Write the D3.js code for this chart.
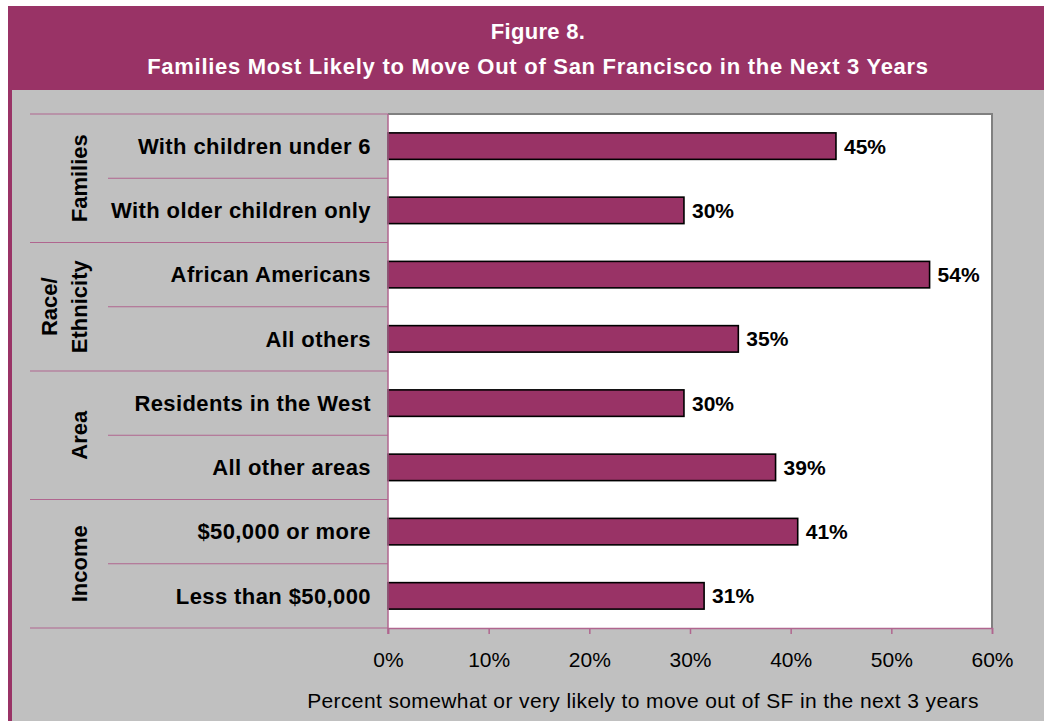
<!DOCTYPE html>
<html>
<head>
<meta charset="utf-8">
<script src="https://cdn.jsdelivr.net/npm/d3@7"></script>
<style>
  html, body { margin: 0; padding: 0; background: #ffffff; }
  svg { display: block; font-family: "Liberation Sans", Arial, sans-serif; }
</style>
</head>
<body>
<svg id="chart" width="1044" height="721"></svg>
<script>
// ---------- data ----------
const titleLines = ["Figure 8.", "Families Most Likely to Move Out of San Francisco in the Next 3 Years"];
const categories = [
  "With children under 6",
  "With older children only",
  "African Americans",
  "All others",
  "Residents in the West",
  "All other areas",
  "$50,000 or more",
  "Less than $50,000"
];
const categoryGroups = ["Families", "Families", "Race/Ethnicity", "Race/Ethnicity", "Area", "Area", "Income", "Income"];
const groupNames = ["Families", "Race/Ethnicity", "Area", "Income"];
const groupLabelLines = [["Families"], ["Race/", "Ethnicity"], ["Area"], ["Income"]];
const values = [44.5, 29.4, 53.8, 34.8, 29.4, 38.5, 40.7, 31.4];
const valueLabels = ["45%", "30%", "54%", "35%", "30%", "39%", "41%", "31%"];
const xTicks = [0, 10, 20, 30, 40, 50, 60];
const xAxisTitle = "Percent somewhat or very likely to move out of SF in the next 3 years";

// ---------- styles ----------
const magenta = "#993366";
const grey = "#c0c0c0";
const sepColor = "#b0668f";

const svg = d3.select("#chart");
const W = 1044, H = 721;

// frame
svg.append("rect").attr("x", 0).attr("y", 0).attr("width", W).attr("height", H).attr("fill", "#ffffff");
svg.append("rect").attr("x", 8).attr("y", 6).attr("width", W - 8).attr("height", H - 6).attr("fill", magenta);
svg.append("rect").attr("x", 12).attr("y", 90).attr("width", W - 12).attr("height", H - 90).attr("fill", grey);

// title
const title = svg.append("text")
  .attr("text-anchor", "middle")
  .attr("fill", "#ffffff")
  .attr("font-weight", "bold")
  .attr("font-size", 22);
title.selectAll("tspan").data(titleLines).join("tspan")
  .attr("x", 538)
  .attr("y", (d, i) => 39 + i * 34.5)
  .attr("letter-spacing", (d, i) => i === 0 ? 0.3 : 0.72)
  .text(d => d);

// scales
const plot = { left: 388, right: 992, top: 114, bottom: 628 };
const x = d3.scaleLinear().domain([0, 60]).range([plot.left, plot.right]);
const y = d3.scaleBand().domain(categories).range([plot.top, plot.bottom])
  .paddingInner(0.588).paddingOuter(0.294);
const step = y.step();
const gap = step - y.bandwidth();

// plot background
svg.append("rect")
  .attr("x", plot.left).attr("y", plot.top)
  .attr("width", plot.right - plot.left).attr("height", plot.bottom - plot.top)
  .attr("fill", "#ffffff");

// plot border top/right
svg.append("path")
  .attr("d", `M${plot.left},${plot.top}H${plot.right}V${plot.bottom}`)
  .attr("fill", "none").attr("stroke", "#808080").attr("stroke-width", 2);

// separator lines between categories
const boundaries = categories.map((c, i) => ({
  y: y(c) - gap / 2,
  major: i === 0 || categoryGroups[i] !== categoryGroups[i - 1]
}));
boundaries.push({ y: y(categories[categories.length - 1]) + y.bandwidth() + gap / 2, major: true });
svg.append("g").selectAll("line").data(boundaries).join("line")
  .attr("x1", d => d.major ? 30 : 108)
  .attr("x2", plot.left)
  .attr("y1", d => d.y).attr("y2", d => d.y)
  .attr("stroke", sepColor).attr("stroke-width", 1.2);

// bars
svg.append("g").selectAll("rect").data(values).join("rect")
  .attr("x", x(0))
  .attr("y", (d, i) => y(categories[i]))
  .attr("width", d => x(d) - x(0))
  .attr("height", y.bandwidth())
  .attr("fill", magenta)
  .attr("stroke", "#000000")
  .attr("stroke-width", 1.6);

// value labels
svg.append("g").selectAll("text").data(values).join("text")
  .attr("x", d => x(d) + 8)
  .attr("y", (d, i) => y(categories[i]) + y.bandwidth() / 2)
  .attr("dy", "0.36em")
  .attr("font-size", 21)
  .attr("font-weight", "bold")
  .attr("fill", "#000000")
  .text((d, i) => valueLabels[i]);

// category labels
svg.append("g").selectAll("text").data(categories).join("text")
  .attr("x", 371)
  .attr("y", d => y(d) + y.bandwidth() / 2)
  .attr("dy", "0.35em")
  .attr("text-anchor", "end")
  .attr("font-size", 22)
  .attr("font-weight", "bold")
  .attr("letter-spacing", 0.4)
  .attr("fill", "#000000")
  .text(d => d);

// group labels
groupNames.forEach((g, gi) => {
  const cats = categories.filter((c, i) => categoryGroups[i] === g);
  const y0 = y(cats[0]) - gap / 2;
  const y1 = y(cats[cats.length - 1]) + y.bandwidth() + gap / 2;
  const cy = (y0 + y1) / 2;
  const lines = groupLabelLines[gi];
  const t = svg.append("text")
    .attr("transform", `translate(87,${cy}) rotate(-90)`)
    .attr("text-anchor", "middle")
    .attr("font-size", 22)
    .attr("font-weight", "bold")
    .attr("fill", "#000000");
  t.selectAll("tspan").data(lines).join("tspan")
    .attr("x", 0)
    .attr("y", (d, i) => (i - (lines.length - 1)) * 30)
    .text(d => d);
});

// x axis
const xAxis = d3.axisBottom(x).tickValues(xTicks).tickSize(6).tickFormat(d => d + "%");
const ax = svg.append("g").attr("transform", `translate(0,${plot.bottom})`).call(xAxis);
ax.select(".domain").attr("stroke", sepColor).attr("stroke-width", 1.5);
ax.selectAll(".tick line").attr("stroke", sepColor).attr("stroke-width", 1.5);
ax.selectAll(".tick text")
  .attr("y", 24)
  .attr("font-size", 21)
  .attr("font-family", "\"Liberation Sans\", Arial, sans-serif")
  .attr("fill", "#000000");

// left axis line
svg.append("line")
  .attr("x1", x(0)).attr("x2", x(0))
  .attr("y1", plot.top).attr("y2", plot.bottom + 6)
  .attr("stroke", sepColor).attr("stroke-width", 1.5);

// x axis title
svg.append("text")
  .attr("x", 643).attr("y", 708)
  .attr("text-anchor", "middle")
  .attr("font-size", 21)
  .attr("letter-spacing", 0.38)
  .attr("fill", "#000000")
  .text(xAxisTitle);
</script>
</body>
</html>
